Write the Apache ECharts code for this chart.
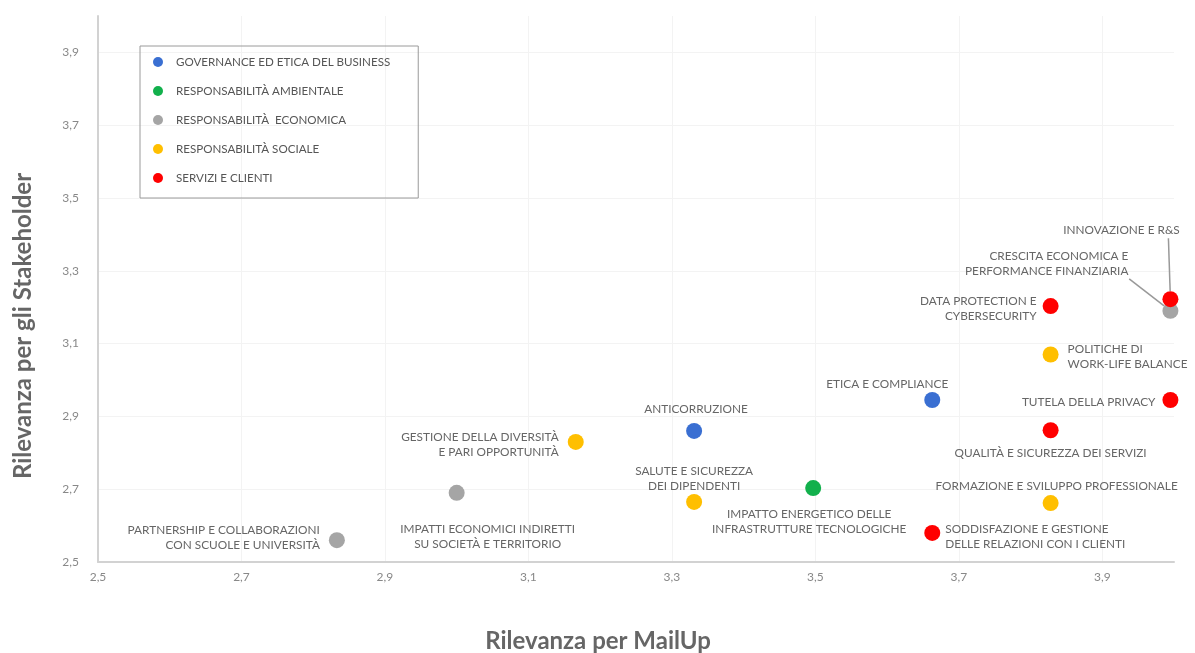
<!DOCTYPE html>
<html>
<head>
<meta charset="utf-8">
<script src="https://cdn.jsdelivr.net/npm/echarts@6/dist/echarts.min.js"></script>
<style>
  html, body { margin: 0; padding: 0; background: #fff; }
  #chart { width: 1195px; height: 653px; }
</style>
</head>
<body>
<div id="chart"></div>
<script>
// categorie (legenda)
const categories = [
  "GOVERNANCE ED ETICA DEL BUSINESS",
  "RESPONSABILITÀ AMBIENTALE",
  "RESPONSABILITÀ  ECONOMICA",
  "RESPONSABILITÀ SOCIALE",
  "SERVIZI E CLIENTI"
];
const colors = ["#3a6fd2", "#12b04c", "#a5a5a5", "#ffbf00", "#ff0000"];

// valori tick assi
const tickValues = [2.5, 2.7, 2.9, 3.1, 3.3, 3.5, 3.7, 3.9];

// governance
const governanceNames = ["ANTICORRUZIONE", "ETICA E COMPLIANCE"];
const governanceX = [3.331, 3.663];
const governanceY = [2.86, 2.945];

// ambientale
const ambientaleNames = ["IMPATTO ENERGETICO DELLE\nINFRASTRUTTURE TECNOLOGICHE"];
const ambientaleX = [3.497];
const ambientaleY = [2.703];

// economica
const economicaNames = [
  "PARTNERSHIP E COLLABORAZIONI\nCON SCUOLE E UNIVERSITÀ",
  "IMPATTI ECONOMICI INDIRETTI\nSU SOCIETÀ E TERRITORIO",
  "CRESCITA ECONOMICA E\nPERFORMANCE FINANZIARIA"
];
const economicaX = [2.833, 3.0, 3.995];
const economicaY = [2.56, 2.69, 3.19];

// sociale
const socialeNames = [
  "GESTIONE DELLA DIVERSITÀ\nE PARI OPPORTUNITÀ",
  "SALUTE E SICUREZZA\nDEI DIPENDENTI",
  "POLITICHE DI\nWORK-LIFE BALANCE",
  "FORMAZIONE E SVILUPPO PROFESSIONALE"
];
const socialeX = [3.166, 3.331, 3.828, 3.828];
const socialeY = [2.83, 2.665, 3.07, 2.662];

// servizi e clienti
const serviziNames = [
  "SODDISFAZIONE E GESTIONE\nDELLE RELAZIONI CON I CLIENTI",
  "DATA PROTECTION E\nCYBERSECURITY",
  "QUALITÀ E SICUREZZA DEI SERVIZI",
  "INNOVAZIONE E R&S",
  "TUTELA DELLA PRIVACY"
];
const serviziX = [3.663, 3.828, 3.828, 3.995, 3.995];
const serviziY = [2.58, 3.203, 2.862, 3.222, 2.945];

// posizione delle etichette
const labelPlacement = {
  "ANTICORRUZIONE": { position: "top", distance: 6 },
  "ETICA E COMPLIANCE": { position: "top", distance: 2 },
  "IMPATTO ENERGETICO DELLE\nINFRASTRUTTURE TECNOLOGICHE": { position: "bottom", distance: 12 },
  "PARTNERSHIP E COLLABORAZIONI\nCON SCUOLE E UNIVERSITÀ": { position: "left", distance: 9 },
  "IMPATTI ECONOMICI INDIRETTI\nSU SOCIETÀ E TERRITORIO": { position: "bottom", distance: 21 },
  "CRESCITA ECONOMICA E\nPERFORMANCE FINANZIARIA": {
    position: "top", distance: 5, align: "right",
    padding: [0, 165, 0, 0], backgroundColor: "transparent"
  },
  "GESTIONE DELLA DIVERSITÀ\nE PARI OPPORTUNITÀ": { position: "left", distance: 9 },
  "SALUTE E SICUREZZA\nDEI DIPENDENTI": { position: "top", distance: 1 },
  "POLITICHE DI\nWORK-LIFE BALANCE": { position: "right", distance: 9 },
  "FORMAZIONE E SVILUPPO PROFESSIONALE": { position: "top", distance: 1 },
  "SODDISFAZIONE E GESTIONE\nDELLE RELAZIONI CON I CLIENTI": { position: "right", distance: 5 },
  "DATA PROTECTION E\nCYBERSECURITY": { position: "left", distance: 6 },
  "QUALITÀ E SICUREZZA DEI SERVIZI": { position: "bottom", distance: 7 },
  "INNOVAZIONE E R&S": {
    position: "top", distance: 5, align: "center",
    padding: [0, 94, 0, 0], backgroundColor: "transparent"
  },
  "TUTELA DELLA PRIVACY": { position: "left", distance: 7 }
};
// spostamenti delle etichette (px)
const labelShift = {
  "ANTICORRUZIONE": { dx: 2, dy: 0 },
  "ETICA E COMPLIANCE": { dx: -45, dy: 2 },
  "IMPATTO ENERGETICO DELLE\nINFRASTRUTTURE TECNOLOGICHE": { dx: -4, dy: -1 },
  "PARTNERSHIP E COLLABORAZIONI\nCON SCUOLE E UNIVERSITÀ": { dx: 0, dy: -2 },
  "IMPATTI ECONOMICI INDIRETTI\nSU SOCIETÀ E TERRITORIO": { dx: 31, dy: 0 },
  "CRESCITA ECONOMICA E\nPERFORMANCE FINANZIARIA": { dx: 123, dy: -19 },
  "GESTIONE DELLA DIVERSITÀ\nE PARI OPPORTUNITÀ": { dx: 0, dy: 3 },
  "SALUTE E SICUREZZA\nDEI DIPENDENTI": { dx: 0, dy: 1 },
  "POLITICHE DI\nWORK-LIFE BALANCE": { dx: 0, dy: 2 },
  "FORMAZIONE E SVILUPPO PROFESSIONALE": { dx: 6, dy: 0 },
  "SODDISFAZIONE E GESTIONE\nDELLE RELAZIONI CON I CLIENTI": { dx: 0, dy: 4 },
  "DATA PROTECTION E\nCYBERSECURITY": { dx: 0, dy: 3 },
  "QUALITÀ E SICUREZZA DEI SERVIZI": { dx: 0, dy: 0 },
  "INNOVAZIONE E R&S": { dx: -2, dy: -48 },
  "TUTELA DELLA PRIVACY": { dx: 0, dy: 2 }
};
// etichette con linea guida
const guidedLabels = ["INNOVAZIONE E R&S", "CRESCITA ECONOMICA E\nPERFORMANCE FINANZIARIA"];

const FONT = "Lato, 'Open Sans', sans-serif";

function buildSeries(name, color, names, xs, ys) {
  return {
    name: name,
    type: "scatter",
    symbolSize: 16,
    clip: false,
    itemStyle: { color: color, opacity: 1 },
    label: {
      show: true,
      formatter: "{b}",
      color: "#666",
      fontFamily: FONT,
      fontSize: 11.8,
      lineHeight: 15
    },
    labelLine: {
      show: false,
      length2: 0,
      lineStyle: { color: "#999", width: 1.5 }
    },
    labelLayout: function (params) {
      const s = labelShift[names[params.dataIndex]];
      return s ? { dx: s.dx, dy: s.dy } : {};
    },
    data: names.map(function (n, i) {
      return {
        name: n,
        value: [xs[i], ys[i]],
        label: labelPlacement[n] || {},
        labelLine: { show: guidedLabels.indexOf(n) >= 0 }
      };
    })
  };
}

const myChart = echarts.init(document.getElementById("chart"));

const axisCommon = {
  type: "value",
  min: 2.5,
  max: 4.0,
  axisLine: { show: true, lineStyle: { color: "#d2d2d2", width: 2 } },
  axisTick: { show: false, customValues: tickValues },
  splitLine: { show: true, lineStyle: { color: "#f3f3f3", width: 1 } },
  axisLabel: {
    customValues: tickValues,
    color: "#888",
    fontFamily: FONT,
    fontSize: 12,
    formatter: function (v) { return v.toFixed(1).replace(".", ","); }
  },
  nameLocation: "middle",
  nameTextStyle: {
    color: "#666",
    fontFamily: FONT,
    fontWeight: "bold",
    fontSize: 24
  }
};

const option = {
  backgroundColor: "#fff",
  animation: false,
  color: colors,
  grid: { left: 98, right: 21, top: 16, bottom: 91, outerBoundsMode: "none", containLabel: false },
  legend: {
    orient: "vertical",
    left: 140,
    top: 46,
    icon: "circle",
    itemWidth: 10,
    itemHeight: 10,
    itemGap: 17,
    padding: [10, 28, 14, 13],
    borderColor: "#9a9a9a",
    borderWidth: 1,
    textStyle: {
      color: "#555",
      fontFamily: FONT,
      fontSize: 11.6,
      padding: [0, 0, 0, 8]
    },
    data: categories
  },
  xAxis: Object.assign({}, axisCommon, {
    name: "Rilevanza per MailUp",
    nameGap: 67,
    axisLabel: Object.assign({}, axisCommon.axisLabel, { margin: 9 }),
    nameTextStyle: Object.assign({}, axisCommon.nameTextStyle, { padding: [0, 76, 0, 0] })
  }),
  yAxis: Object.assign({}, axisCommon, {
    name: "Rilevanza per gli Stakeholder",
    nameGap: 63,
    axisLabel: Object.assign({}, axisCommon.axisLabel, { margin: 19 }),
    nameTextStyle: Object.assign({}, axisCommon.nameTextStyle, { padding: [0, 74, 0, 0] })
  }),
  series: [
    buildSeries(categories[0], colors[0], governanceNames, governanceX, governanceY),
    buildSeries(categories[1], colors[1], ambientaleNames, ambientaleX, ambientaleY),
    buildSeries(categories[2], colors[2], economicaNames, economicaX, economicaY),
    buildSeries(categories[3], colors[3], socialeNames, socialeX, socialeY),
    buildSeries(categories[4], colors[4], serviziNames, serviziX, serviziY)
  ]
};

myChart.setOption(option);
window.addEventListener("resize", function () {
  myChart.resize();
});
</script>
</body>
</html>
